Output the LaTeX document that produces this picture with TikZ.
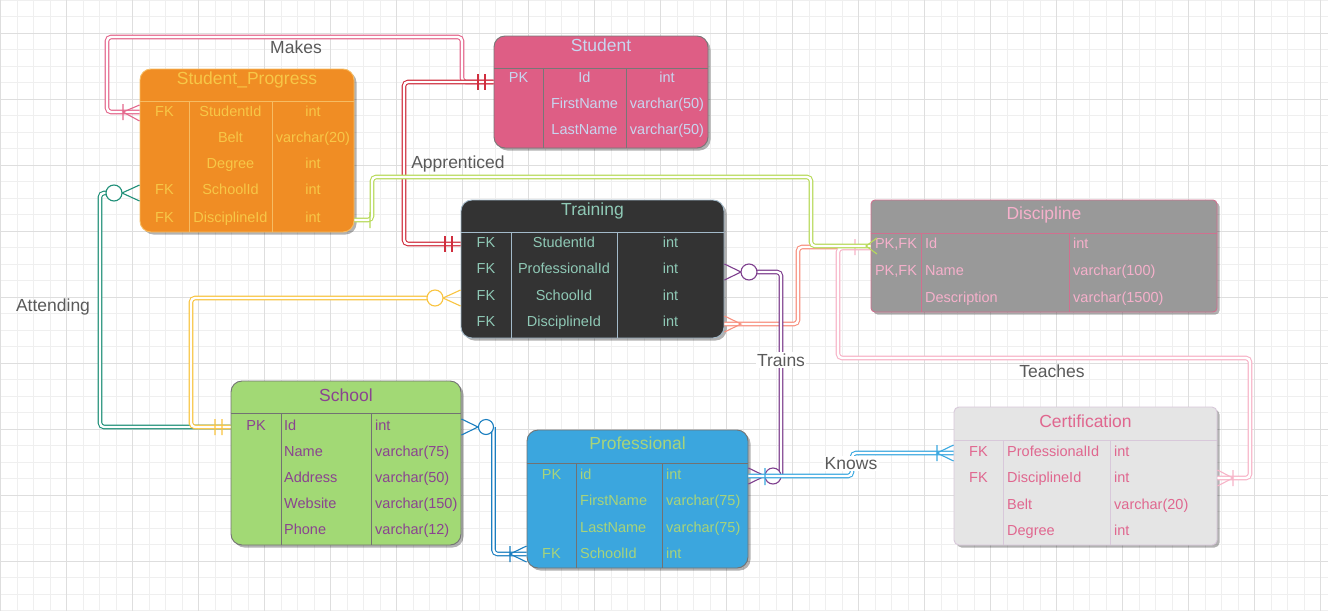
\documentclass[tikz,border=0pt]{standalone}
\usepackage{fontspec}
\setmainfont{Liberation Sans}
\usetikzlibrary{shadows}
% table colours
\definecolor{spF}{HTML}{F08D24}\definecolor{spT}{HTML}{F7C747}\definecolor{spB}{HTML}{F6BC62}
\definecolor{stF}{HTML}{DE5E85}\definecolor{stT}{HTML}{C8D6F0}\definecolor{stB}{HTML}{777777}
\definecolor{trF}{HTML}{333333}\definecolor{trT}{HTML}{8FC9B6}\definecolor{trB}{HTML}{A3BACA}
\definecolor{diF}{HTML}{999999}\definecolor{diT}{HTML}{F6B0CB}\definecolor{diB}{HTML}{D0708F}
\definecolor{scF}{HTML}{A2D975}\definecolor{scT}{HTML}{8A4490}\definecolor{scB}{HTML}{727272}
\definecolor{prF}{HTML}{3BA6DE}\definecolor{prT}{HTML}{A8D47A}\definecolor{prB}{HTML}{727272}
\definecolor{ceF}{HTML}{E5E5E5}\definecolor{ceT}{HTML}{E0678F}\definecolor{ceB}{HTML}{D8C8DA}
% connector colours
\definecolor{cMakes}{HTML}{E4688D}
\definecolor{cApp}{HTML}{D02E3E}
\definecolor{cGreen}{HTML}{B8DA5A}
\definecolor{cSal}{HTML}{F8907E}
\definecolor{cTea}{HTML}{F7B4C8}
\definecolor{cAtt}{HTML}{1F8F78}
\definecolor{cYel}{HTML}{F9C440}
\definecolor{cBlue}{HTML}{1A7EC0}
\definecolor{cPur}{HTML}{7E3F8E}
\definecolor{cKnow}{HTML}{3AA8E0}
\definecolor{lblC}{HTML}{5A5A5A}
\definecolor{gMin}{HTML}{EFEFEF}
\definecolor{gMaj}{HTML}{DEDEDE}
\begin{document}
\begin{tikzpicture}[x=1pt,y=-1pt,
  tbl/.style={rectangle, rounded corners=11pt, line width=0.9pt, inner sep=0pt,
    drop shadow={shadow xshift=2.5pt, shadow yshift=-2.5pt, opacity=0.3, fill=black}},
  cell/.style={inner sep=0pt, anchor=base, yshift=-5.2pt, font=\fontsize{14.5}{17}\selectfont},
  lcell/.style={cell, anchor=base west},
  ttl/.style={inner sep=0pt, anchor=base, yshift=-6.3pt, font=\fontsize{17.5}{20}\selectfont},
  lbl/.style={inner sep=1.5pt, anchor=base, yshift=-6.3pt, text=lblC, font=\fontsize{17.5}{20}\selectfont},
  conn/.style={line width=1.1pt, double=white, double distance=2.4pt, rounded corners=4pt},
  mk/.style={line width=1.1pt},
  ring/.style={line width=1.1pt, fill=white, draw=#1}
]
\useasboundingbox (0,0) rectangle (1328,611);
% background grid
\fill[white] (0,0) rectangle (1328,611);
\foreach \i in {0,...,80} \draw[gMin, line width=0.8pt] (0.5+16.5*\i,0) -- ++(0,611);
\foreach \i in {0,...,37} \draw[gMin, line width=0.8pt] (0,0.3+16.5*\i) -- ++(1328,0);
\foreach \i in {0,...,20} \draw[gMaj, line width=0.8pt] (0.5+66*\i,0) -- ++(0,611);
\foreach \i in {0,...,9} \draw[gMaj, line width=0.8pt] (0,33.3+66*\i) -- ++(1328,0);

% ---------- Student_Progress ----------
\node[tbl, draw=spB, fill=spF, minimum width=214pt, minimum height=163pt] (sp) at (247,150.5) {};
\draw[spB, line width=0.8pt] (sp.west |- 0,101) -- (sp.east |- 0,101)
  (189,101) -- (189,0 |- sp.south) (272,101) -- (272,0 |- sp.south);
\node[ttl, text=spT] (sp-t) at (247,78) {Student\_Progress};
\foreach \y/\a/\b/\c [count=\i] in {111/FK/StudentId/int,137//Belt/varchar(20),163//Degree/int,189/FK/SchoolId/int,217/FK/DisciplineId/int}{
  \node[cell, text=spT] (sp-a\i) at (164.5,\y) {\a};
  \node[cell, text=spT] (sp-b\i) at (230.5,\y) {\b};
  \node[cell, text=spT] (sp-c\i) at (313,\y) {\c};
}

% ---------- Student ----------
\node[tbl, draw=stB, fill=stF, minimum width=214pt, minimum height=112pt] (st) at (601,92) {};
\draw[stB, line width=0.8pt] (st.west |- 0,68) -- (st.east |- 0,68)
  (543,68) -- (543,0 |- st.south) (626,68) -- (626,0 |- st.south);
\node[ttl, text=stT] (st-t) at (601,45) {Student};
\foreach \y/\a/\b/\c [count=\i] in {77/PK/Id/int,103//FirstName/varchar(50),129//LastName/varchar(50)}{
  \node[cell, text=stT] (st-a\i) at (518.5,\y) {\a};
  \node[cell, text=stT] (st-b\i) at (584.5,\y) {\b};
  \node[cell, text=stT] (st-c\i) at (667,\y) {\c};
}

% ---------- Training ----------
\node[tbl, draw=trB, fill=trF, minimum width=263pt, minimum height=138pt] (tr) at (592.5,269) {};
\draw[trB, line width=0.8pt] (tr.west |- 0,232) -- (tr.east |- 0,232)
  (511,232) -- (511,0 |- tr.south) (617,232) -- (617,0 |- tr.south);
\node[ttl, text=trT] (tr-t) at (592.5,209) {Training};
\foreach \y/\a/\b/\c [count=\i] in {242/FK/StudentId/int,268/FK/ProfessionalId/int,295/FK/SchoolId/int,321/FK/DisciplineId/int}{
  \node[cell, text=trT] (tr-a\i) at (486,\y) {\a};
  \node[cell, text=trT] (tr-b\i) at (564,\y) {\b};
  \node[cell, text=trT] (tr-c\i) at (670.5,\y) {\c};
}

% ---------- Discipline ----------
\node[tbl, rounded corners=4pt, draw=diB, fill=diF, minimum width=346pt, minimum height=112pt] (di) at (1044,256) {};
\draw[diB, line width=0.8pt] (di.west |- 0,233) -- (di.east |- 0,233)
  (921,233) -- (921,0 |- di.south) (1069,233) -- (1069,0 |- di.south);
\node[ttl, text=diT] (di-t) at (1044,213) {Discipline};
\node[cell, text=diT] (di-a1) at (896,243) {PK,FK};
\node[cell, text=diT] (di-a2) at (896,270) {PK,FK};
\node[lcell, text=diT] (di-b1) at (925,243) {Id};
\node[lcell, text=diT] (di-b2) at (925,270) {Name};
\node[lcell, text=diT] (di-b3) at (925,297) {Description};
\node[lcell, text=diT] (di-c1) at (1073,243) {int};
\node[lcell, text=diT] (di-c2) at (1073,270) {varchar(100)};
\node[lcell, text=diT] (di-c3) at (1073,297) {varchar(1500)};

% ---------- School ----------
\node[tbl, draw=scB, fill=scF, minimum width=230pt, minimum height=164pt] (sc) at (346,463) {};
\draw[scB, line width=0.8pt] (sc.west |- 0,413) -- (sc.east |- 0,413)
  (281,413) -- (281,0 |- sc.south) (371,413) -- (371,0 |- sc.south);
\node[ttl, text=scT] (sc-t) at (346,395) {School};
\node[cell, text=scT] (sc-a1) at (256,425) {PK};
\foreach \y/\b/\c [count=\i] in {425/Id/int,451/Name/varchar(75),477/Address/varchar(50),503/Website/varchar(150),529.5/Phone/varchar(12)}{
  \node[lcell, text=scT] (sc-b\i) at (284,\y) {\b};
  \node[lcell, text=scT] (sc-c\i) at (375,\y) {\c};
}

% ---------- Professional ----------
\node[tbl, draw=prB, fill=prF, minimum width=221pt, minimum height=138pt] (pr) at (637.5,499) {};
\draw[prB, line width=0.8pt] (pr.west |- 0,463) -- (pr.east |- 0,463)
  (576,463) -- (576,0 |- pr.south) (662,463) -- (662,0 |- pr.south);
\node[ttl, text=prT] (pr-t) at (637.5,443) {Professional};
\node[cell, text=prT] (pr-a1) at (551.5,474) {PK};
\node[cell, text=prT] (pr-a4) at (551.5,553) {FK};
\foreach \y/\b/\c [count=\i] in {474/id/int,500/FirstName/varchar(75),527/LastName/varchar(75),553/SchoolId/int}{
  \node[lcell, text=prT] (pr-b\i) at (580,\y) {\b};
  \node[lcell, text=prT] (pr-c\i) at (666,\y) {\c};
}

% ---------- Certification ----------
\node[tbl, rounded corners=5pt, draw=ceB, fill=ceF, minimum width=263pt, minimum height=138pt] (ce) at (1085.5,476) {};
\draw[ceB, line width=0.8pt] (ce.west |- 0,440) -- (ce.east |- 0,440)
  (1003,440) -- (1003,0 |- ce.south) (1110,440) -- (1110,0 |- ce.south);
\node[ttl, text=ceT] (ce-t) at (1085.5,421) {Certification};
\node[cell, text=ceT] (ce-a1) at (978.5,451) {FK};
\node[cell, text=ceT] (ce-a2) at (978.5,477) {FK};
\foreach \y/\b/\c [count=\i] in {451/ProfessionalId/int,477/DisciplineId/int,504/Belt/varchar(20),530/Degree/int}{
  \node[lcell, text=ceT] (ce-b\i) at (1007,\y) {\b};
  \node[lcell, text=ceT] (ce-c\i) at (1114,\y) {\c};
}

% ================= connectors =================
% Makes (Student -> Student_Progress)
\draw[conn, draw=cMakes] (st.west |- 0,82) -- (462,82) -- (462,37) -- (107,37) -- (107,112) -- (sp.west |- 0,112);
\draw[mk, cMakes] (123,104) -- (123,120) (sp.west |- 0,105) -- (123,112) -- (sp.west |- 0,121);
% Apprenticed (Student -> Training)
\draw[conn, draw=cApp] (st.west |- 0,82) -- (404,82) -- (404,244) -- (tr.west |- 0,244);
\draw[mk, cApp] (478,74) -- (478,90) (485,74) -- (485,90) (445,236) -- (445,252) (452,236) -- (452,252);
% Training.DisciplineId -> Discipline (salmon)
\draw[conn, draw=cSal] (tr.east |- 0,324) -- (798,324) -- (798,247) -- (di.west |- 0,247);
\draw[mk, cSal] (tr.east |- 0,316) -- (741,324) -- (tr.east |- 0,332);
% Teaches (Discipline -> Certification)
\draw[conn, draw=cTea] (di.west |- 0,248) -- (838,248) -- (838,358) -- (1250,358) -- (1250,478) -- (ce.east |- 0,478);
\draw[mk, cTea] (855,239) -- (855,255) (ce.east |- 0,470) -- (1233,478) -- (ce.east |- 0,486) (1233,470) -- (1233,486);
% Student_Progress.DisciplineId -> Discipline (green)
\draw[conn, draw=cGreen] (sp.east |- 0,220) -- (372,220) -- (372,177) -- (811,177) -- (811,246) -- (di.west |- 0,246);
\draw[mk, cGreen] (370,212) -- (370,228) (877,238) -- (866,246) -- (877,254);
% Attending (School -> Student_Progress)
\draw[conn, draw=cAtt] (106,193) -- (100,193) -- (100,427) -- (sc.west |- 0,427);
\draw[mk, cAtt] (sp.west |- 0,185) -- (122,193) -- (sp.west |- 0,201);
\draw[ring=cAtt] (114,193) circle (8);
% School -> Training.SchoolId (yellow)
\draw[conn, draw=cYel] (427,298) -- (191,298) -- (191,427) -- (sc.west |- 0,427);
\draw[mk, cYel] (tr.west |- 0,290) -- (443,298) -- (tr.west |- 0,306) (215,419) -- (215,435) (222,419) -- (222,435);
\draw[ring=cYel] (435,298) circle (8);
% School -> Professional.SchoolId (blue)
\draw[conn, draw=cBlue] (493.5,427) -- (493.5,554) -- (pr.west |- 0,554);
\draw[mk, cBlue] (sc.east |- 0,419) -- (478,427) -- (sc.east |- 0,435) (510,546) -- (510,562) (pr.west |- 0,546) -- (510,554) -- (pr.west |- 0,562);
\draw[ring=cBlue] (486,427) circle (7.5);
% Trains (Professional -> Training.ProfessionalId)
\draw[conn, draw=cPur] (757,272) -- (781,272) -- (781,474);
\draw[mk, cPur] (tr.east |- 0,264) -- (741,272) -- (tr.east |- 0,280) (pr.east |- 0,468) -- (765,476) -- (pr.east |- 0,484);
\draw[ring=cPur] (749,272) circle (8);
\draw[ring=cPur] (773,476) circle (8);
% Knows (Professional -> Certification)
\draw[conn, draw=cKnow] (pr.east |- 0,476) -- (852,476) -- (852,453) -- (ce.west |- 0,453);
\draw[mk, cKnow] (765,468) -- (765,485) (937,445) -- (937,461) (ce.west |- 0,445) -- (937,453) -- (ce.west |- 0,461);

% ================= labels =================
\node[lbl] (l-makes) at (296,47) {Makes};
\node[lbl] (l-app) at (458,162) {Apprenticed};
\node[lbl] (l-att) at (53,305) {Attending};
\node[lbl, fill=white] (l-trains) at (781,360) {Trains};
\node[lbl, fill=white] (l-knows) at (851,463) {Knows};
\node[lbl] (l-teaches) at (1052,371) {Teaches};
\end{tikzpicture}
\end{document}
